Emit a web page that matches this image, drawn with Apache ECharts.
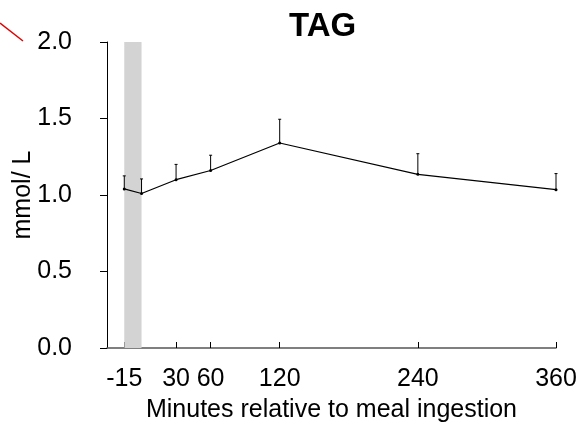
<!DOCTYPE html>
<html>
<head>
<meta charset="utf-8">
<script src="https://cdn.jsdelivr.net/npm/echarts@6/dist/echarts.min.js"></script>
<style>html,body{margin:0;padding:0;background:#fff}#c{width:577px;height:423px}</style>
</head>
<body>
<div id="c"></div>
<script>
var times = [-15, 0, 30, 60, 120, 240, 360];
var means = [1.04, 1.01, 1.10, 1.16, 1.34, 1.135, 1.035];
var upper = [1.125, 1.105, 1.20, 1.26, 1.495, 1.27, 1.14];
var xTicks = [-15, 30, 60, 120, 240, 360];
var yTicks = [0, 0.5, 1.0, 1.5, 2.0];
var shade = [-15, 0];

var FONT = 'Liberation Sans, Arial, sans-serif';
var chart = echarts.init(document.getElementById('c'));
var lineData = times.map(function (t, i) { return [t, means[i]]; });
var errData = times.map(function (t, i) { return [t, means[i], upper[i]]; });

chart.setOption({
  animation: false,
  title: {
    text: 'TAG', left: 284, top: 5,
    textStyle: { fontFamily: FONT, fontSize: 33, fontWeight: 'bold', color: '#000' }
  },
  grid: { left: 107, right: 21, top: 42, bottom: 75, containLabel: false, outerBoundsMode: 'none' },
  xAxis: {
    type: 'value', min: -30, max: 360,
    name: 'Minutes relative to meal ingestion', nameLocation: 'middle', nameGap: 50,
    nameMoveOverlap: false,
    nameTextStyle: { fontFamily: FONT, fontSize: 25, color: '#000' },
    axisLine: { show: true, onZero: false, lineStyle: { color: '#555', width: 1.5 } },
    axisTick: { show: true, inside: true, length: 6, customValues: xTicks, lineStyle: { color: '#000' } },
    axisLabel: { customValues: xTicks, margin: 19, fontFamily: FONT, fontSize: 25, color: '#000' },
    splitLine: { show: false }
  },
  yAxis: {
    type: 'value', min: 0, max: 2, interval: 0.5,
    name: 'mmol/ L', nameLocation: 'middle', nameGap: 71, nameRotate: 90,
    nameMoveOverlap: false,
    nameTextStyle: { fontFamily: FONT, fontSize: 25, color: '#000' },
    axisLine: { show: true, onZero: false, lineStyle: { color: '#000', width: 1 } },
    axisTick: { show: true, inside: false, length: 7, lineStyle: { color: '#000' } },
    axisLabel: {
      margin: 35, fontFamily: FONT, fontSize: 25, color: '#000',
      formatter: function (v) { return v.toFixed(1); }
    },
    splitLine: { show: false }
  },
  series: [
    {
      type: 'line', data: [], z: 1,
      markArea: {
        silent: true,
        itemStyle: { color: '#d3d3d3' },
        data: [[{ xAxis: shade[0] }, { xAxis: shade[1] }]]
      }
    },
    {
      type: 'custom', z: 3,
      renderItem: function (params, api) {
        var x = api.value(0);
        var p0 = api.coord([x, api.value(1)]);
        var p1 = api.coord([x, api.value(2)]);
        var style = { stroke: '#000', lineWidth: 1 };
        return {
          type: 'group',
          children: [
            { type: 'line', shape: { x1: p0[0], y1: p0[1], x2: p1[0], y2: p1[1] }, style: style },
            { type: 'line', shape: { x1: p1[0] - 1.5, y1: p1[1], x2: p1[0] + 1.5, y2: p1[1] }, style: style }
          ]
        };
      },
      data: errData
    },
    {
      type: 'line', data: lineData, z: 4,
      symbol: 'circle', symbolSize: 3, showSymbol: true,
      lineStyle: { color: '#000', width: 1.2 },
      itemStyle: { color: '#000' }
    }
  ],
  graphic: [
    { type: 'line', shape: { x1: 0, y1: 23, x2: 23, y2: 41 }, style: { stroke: '#e00000', lineWidth: 1.5 } }
  ]
});
</script>
</body>
</html>
